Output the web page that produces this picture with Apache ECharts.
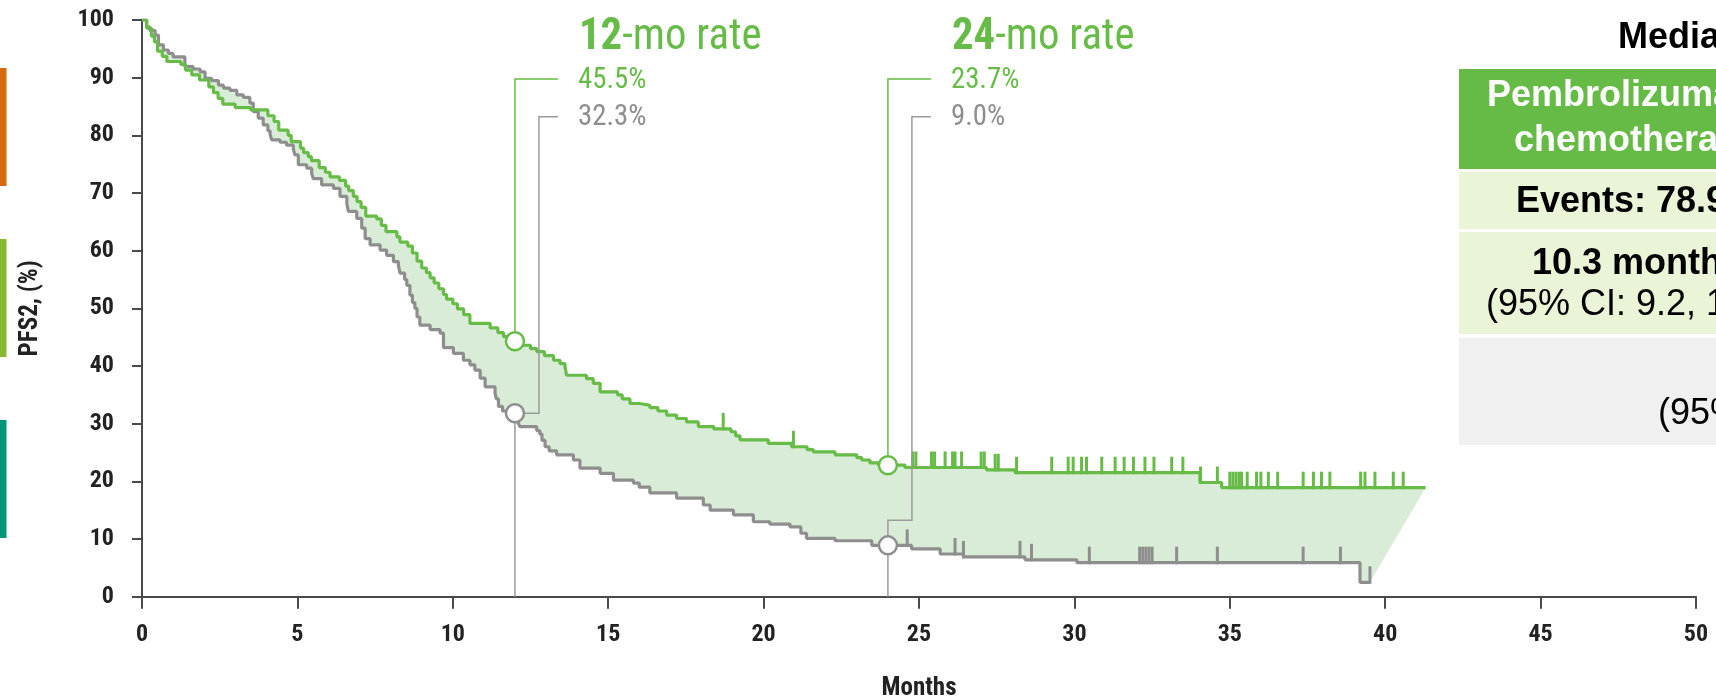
<!DOCTYPE html>
<html><head><meta charset="utf-8">
<script src="https://cdn.jsdelivr.net/npm/echarts@6/dist/echarts.min.js"></script>
<style>html,body{margin:0;padding:0;background:#fff}#c{width:1716px;height:700px}</style>
</head><body><div id="c"></div>
<script>
// ---------- data ----------
const xTicks = [0,5,10,15,20,25,30,35,40,45,50];
const yTicks = [0,10,20,30,40,50,60,70,80,90,100];
const pembroCurve = [[0,100],[0.15,98.6],[0.3,97.2],[0.4,96.2],[0.5,94.6],[0.65,93.7],[0.8,92.8],[1.25,92.3],[1.4,91.3],[1.6,90.5],[1.85,89.6],[2.15,88.4],[2.3,87.4],[2.45,86.4],[2.6,85.4],[3.0,84.8],[3.5,84.4],[4.05,83.4],[4.25,82.4],[4.4,80.9],[4.7,80.0],[4.8,78.9],[5.1,77.8],[5.2,77.0],[5.35,76.3],[5.45,75.6],[5.7,74.4],[5.9,73.6],[6.05,72.8],[6.35,72.2],[6.55,71.2],[6.65,70.4],[6.8,69.4],[6.92,68.5],[7.05,67.5],[7.2,66.0],[7.55,65.5],[7.7,64.4],[7.85,63.3],[8.2,62.4],[8.3,61.5],[8.55,60.8],[8.7,59.6],[8.85,58.2],[9.0,57.0],[9.15,56.2],[9.27,55.3],[9.4,54.4],[9.55,53.4],[9.7,52.4],[9.8,51.6],[10.0,50.8],[10.15,49.9],[10.35,48.9],[10.55,47.4],[11.2,46.6],[11.45,45.8],[11.63,45.1],[11.85,44.3],[12.25,43.6],[12.5,43.0],[12.7,42.5],[12.95,41.8],[13.24,41.0],[13.45,40.4],[13.61,39.9],[13.66,38.4],[14.3,37.8],[14.52,37.0],[14.74,35.5],[15.3,35.0],[15.45,34.3],[15.7,33.5],[16.0,33.2],[16.34,32.8],[16.6,32.2],[16.88,31.5],[17.2,30.9],[17.52,30.3],[17.9,29.5],[18.4,29.1],[18.95,28.6],[19.1,27.9],[19.24,27.2],[20.15,26.6],[20.9,26.0],[21.4,25.5],[21.6,25.1],[22.3,24.6],[23.0,24.1],[23.16,23.7],[23.42,23.2],[23.7,22.8],[24.55,22.4],[27.17,22.0],[28.09,21.5],[34.04,19.8],[34.74,18.9],[41.3,18.9]];
const placeboCurve = [[0,100],[0.15,98.8],[0.25,98.2],[0.42,97.4],[0.53,95.7],[0.69,94.8],[0.85,94.2],[1.0,93.6],[1.38,91.9],[1.65,91.5],[1.87,91.0],[2.03,89.9],[2.24,89.5],[2.46,88.7],[2.62,88.2],[2.83,87.8],[3.05,87.0],[3.26,86.6],[3.47,85.6],[3.58,84.1],[3.74,83.0],[3.9,81.8],[4.05,80.8],[4.12,80.2],[4.17,79.2],[4.44,78.8],[4.65,78.3],[4.87,77.6],[4.92,76.6],[5.03,74.9],[5.3,74.3],[5.46,73.4],[5.51,72.5],[5.78,71.4],[6.16,70.8],[6.37,69.4],[6.59,68.2],[6.64,66.8],[6.91,65.6],[7.07,63.9],[7.18,62.1],[7.34,61.0],[7.66,60.1],[7.87,59.2],[8.09,58.1],[8.25,57.5],[8.3,56.1],[8.45,55.0],[8.52,54.0],[8.62,52.3],[8.7,51.0],[8.78,50.0],[8.85,48.5],[8.94,47.1],[9.27,46.3],[9.59,45.7],[9.7,43.2],[10.02,42.2],[10.34,41.0],[10.55,40.2],[10.71,39.3],[10.88,37.9],[11.04,36.4],[11.36,35.3],[11.4,34.3],[11.47,33.0],[11.6,32.2],[11.9,31.8],[12.1,30.2],[12.16,29.5],[12.7,28.8],[12.8,28.2],[12.87,27.1],[12.97,26.0],[13.1,25.3],[13.34,24.6],[13.88,23.7],[14.09,22.3],[14.74,21.4],[15.17,20.2],[15.81,19.7],[16.0,19.0],[16.34,18.0],[17.2,17.1],[18.06,15.9],[18.28,15.0],[19.03,14.2],[19.67,13.0],[20.2,12.6],[20.85,12.1],[21.2,11.0],[21.38,10.1],[22.3,9.7],[23.48,8.9],[24.76,8.3],[25.68,7.4],[26.43,6.9],[28.41,6.4],[30.08,5.9],[39.19,2.5],[39.51,2.5]];
const pembroCensor = [18.7,20.96,24.8,24.9,25.4,25.5,25.84,26.08,26.16,26.37,27.0,27.1,27.45,27.55,28.14,29.27,29.8,29.96,30.23,30.39,30.88,31.31,31.6,31.9,32.27,32.56,33.13,33.49,34.06,34.6,35.0,35.1,35.2,35.3,35.38,35.56,35.86,36.0,36.24,36.54,37.36,37.69,37.95,38.22,39.21,39.35,39.67,40.26,40.58];
const placeboCensor = [24.62,26.16,26.43,28.25,28.62,30.48,32.1,32.2,32.3,32.4,32.5,33.29,34.6,37.36,38.56,39.51];
const milestoneMonths = [12, 24];
const milestoneTitles = ['12', '24'];
const pembroRates = ['45.5%', '23.7%'];
const placeboRates = ['32.3%', '9.0%'];
const tableTitle = 'Median PFS2';
const tableHeader = ['Pembrolizumab +', 'chemotherapy'];
const tableEvents = 'Events: 78.9%';
const tableMedian = '10.3 months';
const tableCI = '(95% CI: 9.2, 1';
const tableGreyCI = '(95% CI:';

// ---------- helpers ----------
const COND = "'Roboto Condensed','DejaVu Sans Condensed',sans-serif";
const ARIAL = "'Liberation Sans',Arial,sans-serif";
const GREEN = '#66bc46', GRAY = '#8e8e8e', LEAD_GRAY = '#9b9b9b', FILL = '#d9ecd7', AXIS = '#4a4a4a', LABEL = '#222222';

function stepValue(curve, t) {
  let v = curve[0][1];
  for (const [ti, si] of curve) { if (ti <= t) v = si; else break; }
  return v;
}
function stepPath(curve) {
  const pts = [];
  for (let i = 0; i < curve.length; i++) {
    if (i > 0) pts.push([curve[i][0], curve[i - 1][1]]);
    pts.push(curve[i]);
  }
  return pts;
}
function censorSeries(times, curve, color) {
  return {
    type: 'custom', z: 3, silent: true, clip: false,
    encode: { x: 0, y: 1 },
    data: times.map(t => [t, stepValue(curve, t)]),
    renderItem: (params, api) => {
      const p = api.coord([api.value(0), api.value(1)]);
      return { type: 'line', shape: { x1: p[0], y1: p[1] + 1.5, x2: p[0], y2: p[1] - 16 },
        style: { stroke: color, lineWidth: 3 } };
    }
  };
}

const chart = echarts.init(document.getElementById('c'), null, { renderer: 'canvas' });
const option = {
  animation: false,
  backgroundColor: '#fff',
  grid: { left: 142, right: 20, top: 20, bottom: 103.3, containLabel: false, outerBoundsMode: 'none' },
  xAxis: {
    type: 'value', min: xTicks[0], max: xTicks[xTicks.length - 1], interval: 5,
    name: 'Months', nameLocation: 'middle', nameGap: 80,
    nameTextStyle: { fontFamily: COND, fontWeight: 'bold', fontSize: 25, color: LABEL },
    axisLine: { show: true, lineStyle: { color: AXIS, width: 2 } },
    axisTick: { show: true, length: 12, lineStyle: { color: AXIS, width: 2 } },
    axisLabel: { fontFamily: COND, fontWeight: 'bold', fontSize: 24, color: LABEL, margin: 26,
      formatter: v => xTicks.includes(v) ? String(v) : '' },
    splitLine: { show: false }
  },
  yAxis: {
    type: 'value', min: yTicks[0], max: yTicks[yTicks.length - 1], interval: 10,
    name: 'PFS2, (%)', nameLocation: 'middle', nameGap: 99, nameRotate: 90,
    nameTextStyle: { fontFamily: COND, fontWeight: 'bold', fontSize: 25, color: LABEL },
    axisLine: { show: true, lineStyle: { color: AXIS, width: 2 } },
    axisTick: { show: true, length: 10, lineStyle: { color: AXIS, width: 2 } },
    axisLabel: { fontFamily: COND, fontWeight: 'bold', fontSize: 24, color: LABEL, margin: 28,
      formatter: v => yTicks.includes(v) ? String(v) : '' },
    splitLine: { show: false }
  },
  series: [
    {
      type: 'custom', z: 1, silent: true, encode: { x: 0, y: 1 }, data: [[0, 0]],
      renderItem: (params, api) => {
        const top = stepPath(pembroCurve).map(p => api.coord(p));
        const bottom = stepPath(placeboCurve).reverse().map(p => api.coord(p));
        return { type: 'polygon', shape: { points: top.concat(bottom) }, style: { fill: FILL } };
      }
    },
    { type: 'line', z: 2, silent: true, step: 'end', showSymbol: false, symbol: 'none', data: placeboCurve,
      lineStyle: { color: GRAY, width: 3.2 } },
    { type: 'line', z: 2, silent: true, step: 'end', showSymbol: false, symbol: 'none', data: pembroCurve,
      lineStyle: { color: GREEN, width: 3.2 } },
    censorSeries(placeboCensor, placeboCurve, GRAY),
    censorSeries(pembroCensor, pembroCurve, GREEN),
    {
      type: 'custom', z: 5, silent: true, clip: false, encode: { x: 0, y: 1 },
      data: milestoneMonths.map((m, i) => [m, stepValue(pembroCurve, m), stepValue(placeboCurve, m), i]),
      renderItem: (params, api) => {
        const m = api.value(0), i = api.value(3);
        const pG = api.coord([m, api.value(1)]);
        const pP = api.coord([m, api.value(2)]);
        const pA = api.coord([m, 0]);
        const x = pG[0];
        const yTitle = 38, yG = 80, yP = 117.5;
        const elbowY = i === 0 ? pP[1] : pP[1] - 25;
        const elbowX = x + 24;
        return {
          type: 'group',
          children: [
            { type: 'line', shape: { x1: x, y1: pP[1], x2: x, y2: pA[1] }, style: { stroke: LEAD_GRAY, lineWidth: 1.5 } },
            { type: 'polyline', shape: { points: [[x, pG[1]], [x, 79], [x + 43, 79]] }, style: { stroke: GREEN, lineWidth: 1.5, fill: null } },
            { type: 'polyline', shape: { points: [[x, pP[1]], [x, elbowY], [elbowX, elbowY], [elbowX, 116.7], [x + 43, 116.7]] }, style: { stroke: LEAD_GRAY, lineWidth: 1.5, fill: null } },
            { type: 'circle', shape: { cx: pG[0], cy: pG[1], r: 9 }, style: { fill: '#fff', stroke: GREEN, lineWidth: 2.5 } },
            { type: 'circle', shape: { cx: pP[0], cy: pP[1], r: 9 }, style: { fill: '#fff', stroke: GRAY, lineWidth: 2.5 } },
            { type: 'text', x: x + 64, y: yTitle, scaleX: 0.95,
              style: { text: '{b|' + milestoneTitles[i] + '}{n|-mo rate}', x: 0, y: 0, verticalAlign: 'middle', align: 'left',
                rich: { b: { fontFamily: COND, fontWeight: 'bold', fontSize: 45, fill: GREEN },
                        n: { fontFamily: COND, fontWeight: 'normal', fontSize: 45, fill: GREEN } } } },
            { type: 'text', x: x + 63, y: yG, scaleX: 0.96,
              style: { text: pembroRates[i], x: 0, y: 0, verticalAlign: 'middle', align: 'left', fill: GREEN, font: '30px ' + COND } },
            { type: 'text', x: x + 63, y: yP, scaleX: 0.96,
              style: { text: placeboRates[i], x: 0, y: 0, verticalAlign: 'middle', align: 'left', fill: GRAY, font: '30px ' + COND } }
          ]
        };
      }
    }
  ],
  graphic: [
    { type: 'rect', shape: { x: 0, y: 68, width: 6.5, height: 118 }, style: { fill: '#d4690e' } },
    { type: 'rect', shape: { x: 0, y: 239, width: 6.5, height: 118 }, style: { fill: '#8bb832' } },
    { type: 'rect', shape: { x: 0, y: 420, width: 6.5, height: 118 }, style: { fill: '#00967a' } },
    { type: 'rect', shape: { x: 1459, y: 69, width: 400, height: 100 }, style: { fill: '#66bb46' } },
    { type: 'rect', shape: { x: 1459, y: 171.7, width: 400, height: 57.3 }, style: { fill: '#eaf4d7' } },
    { type: 'rect', shape: { x: 1459, y: 232, width: 400, height: 102 }, style: { fill: '#eaf4d7' } },
    { type: 'rect', shape: { x: 1459, y: 337.7, width: 400, height: 107.3 }, style: { fill: '#f0f0f0' } },
    { type: 'text', style: { text: tableTitle, x: 1618, y: 38, verticalAlign: 'middle', align: 'left', fill: '#000', font: 'bold 36px ' + ARIAL } },
    { type: 'text', style: { text: tableHeader[0], x: 1487, y: 96.5, verticalAlign: 'middle', align: 'left', fill: '#fff', font: 'bold 36px ' + ARIAL } },
    { type: 'text', style: { text: tableHeader[1], x: 1514, y: 141.5, verticalAlign: 'middle', align: 'left', fill: '#fff', font: 'bold 36px ' + ARIAL } },
    { type: 'text', style: { text: tableEvents, x: 1516, y: 202.5, verticalAlign: 'middle', align: 'left', fill: '#000', font: 'bold 36px ' + ARIAL } },
    { type: 'text', style: { text: tableMedian, x: 1532, y: 264, verticalAlign: 'middle', align: 'left', fill: '#000', font: 'bold 36px ' + ARIAL } },
    { type: 'text', style: { text: tableCI, x: 1486, y: 305.5, verticalAlign: 'middle', align: 'left', fill: '#000', font: '36px ' + ARIAL } },
    { type: 'text', style: { text: tableGreyCI, x: 1658, y: 414.5, verticalAlign: 'middle', align: 'left', fill: '#000', font: '36px ' + ARIAL } }
  ]
};
chart.setOption(option);
</script>
</body></html>
